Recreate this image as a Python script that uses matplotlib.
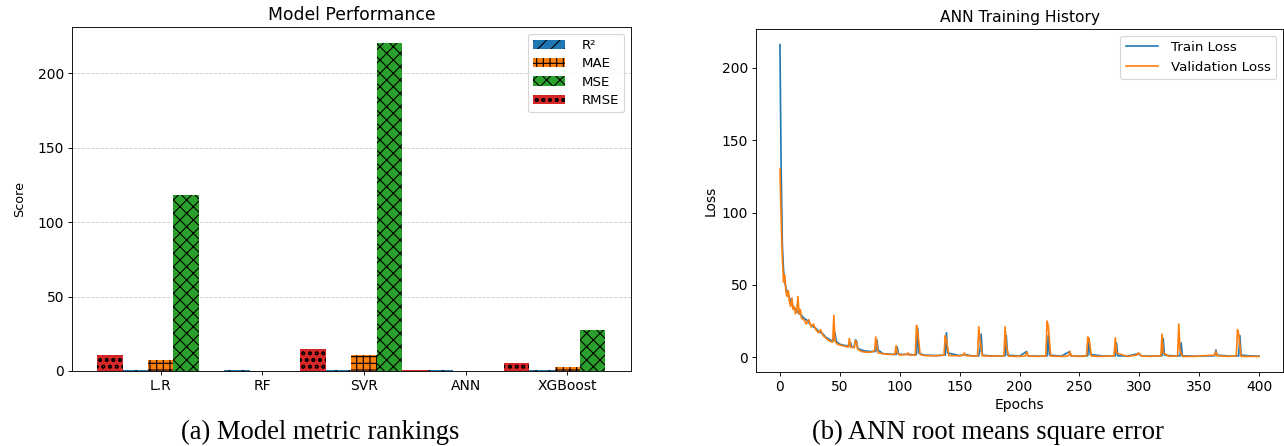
import numpy as np
import matplotlib
matplotlib.use('Agg')
import matplotlib.pyplot as plt

# ---------------- data: model metrics ----------------
models = ['L.R', 'RF', 'SVR', 'ANN', 'XGBoost']
r2 = [0.7, 0.95, 0.6, 0.9, 0.85]
mae = [7.5, 0.03, 10.5, 0.05, 2.7]
mse = [118.0, 0.003, 220.0, 0.03, 27.5]
rmse = [10.9, 0.05, 14.8, 0.6, 5.2]

# ---------------- data: ANN training history ----------------
val_epochs = [0, 1, 2, 3, 4, 5, 6, 7, 8, 9, 10, 11, 12, 13, 14, 15, 16, 17, 18, 20,
              22, 24, 26, 28, 30, 32, 34, 36, 38, 40, 42, 44, 45, 46, 48, 50, 52, 55, 57, 58,
              59, 62, 63, 64, 65, 68, 72, 76, 79, 80, 82, 86, 90, 95, 96, 97, 98, 100, 105, 106,
              107, 108, 113, 114, 115, 117, 120, 130, 137, 138, 139, 141, 150, 153, 154, 155, 160, 165, 166, 167,
              169, 175, 187, 188, 189, 191, 200, 205, 206, 207, 215, 222, 223, 224, 226, 235, 241, 242, 243, 250,
              256, 257, 258, 260, 270, 279, 280, 281, 290, 298, 299, 300, 302, 310, 318, 319, 320, 325, 332, 333,
              334, 336, 345, 363, 364, 365, 375, 381, 382, 383, 385, 395, 400]
val_loss = [130, 95, 68, 52, 57, 45, 42, 46, 38, 35, 41, 33, 35, 30, 32, 42, 30, 33, 27, 26,
            23, 26, 21, 23, 19, 17, 19, 15, 13.5, 12, 11, 10.5, 29, 11, 9, 8.5, 8, 7.5, 7, 13,
            7, 6.5, 11.5, 10, 5.5, 4, 3.5, 3.5, 4.5, 14, 3, 2.5, 2, 2, 2, 8, 3, 1.5, 2, 2,
            3, 1.5, 1.5, 22, 18, 2, 1.2, 1, 1.5, 15, 12, 1.2, 1, 1.5, 3, 1.2, 0.8, 1, 21, 12,
            1, 0.8, 1, 21, 8, 0.8, 0.6, 1, 3.5, 1, 0.6, 1, 25, 22, 0.8, 0.6, 1, 4, 1, 0.6,
            1, 14, 13, 0.8, 0.6, 1, 13.5, 3, 0.6, 1.5, 3, 2.5, 0.8, 0.6, 1, 16, 3, 0.6, 1, 23,
            5, 0.6, 0.6, 1.5, 4, 1, 0.6, 1, 19, 16, 0.6, 0.6, 0.6]

train_epochs = [0, 1, 2, 3, 4, 5, 6, 7, 8, 9, 10, 11, 12, 13, 14, 15, 16, 17, 18, 20,
                22, 24, 26, 28, 30, 32, 34, 36, 38, 40, 42, 44, 45, 46, 47, 50, 55, 58, 59, 60,
                62, 63, 64, 65, 70, 76, 80, 81, 82, 86, 95, 97, 98, 99, 105, 108, 113, 114, 115, 116,
                120, 130, 138, 139, 140, 150, 154, 160, 166, 167, 168, 169, 175, 188, 189, 190, 200, 206, 207, 215,
                223, 224, 225, 235, 242, 243, 250, 257, 258, 259, 270, 280, 281, 282, 290, 299, 300, 302, 310, 319,
                320, 321, 330, 334, 335, 336, 345, 363, 364, 365, 375, 383, 384, 385, 395, 400]
train_loss = [216, 130, 78, 60, 52, 48, 45, 43, 41, 39, 37, 35, 34, 33, 32, 31, 30, 30, 29, 27,
              26, 24, 22, 21, 20, 18, 17, 16, 14, 13, 12, 11, 12, 17, 11, 9, 8, 8, 10, 7,
              7, 12, 11, 6, 4.5, 4, 4, 12, 5, 2.5, 2, 2, 7, 2, 2, 2, 1.5, 2, 20, 3,
              1.5, 1.2, 1.5, 17, 3, 1.2, 2, 1, 1, 5, 16, 1.5, 1, 1, 15, 1.5, 0.8, 4, 1, 0.8,
              1, 15, 1.5, 0.8, 4, 1, 0.8, 1, 13, 2, 0.8, 1, 10, 1, 0.8, 2.5, 2, 0.8, 0.8, 1,
              13, 1.5, 0.8, 1, 10, 1, 0.8, 1, 5, 1.5, 0.8, 1, 15, 1.5, 0.8, 0.8]

W, H, DPI = 1284, 446, 80
fig = plt.figure(figsize=(W / DPI, H / DPI), dpi=DPI)
TICK = 12.5

# ---------------- left: bar chart ----------------
ax1 = fig.add_axes([71.8 / W, 1 - 371 / H, (630.8 - 71.8) / W, (371 - 27) / H])
x = np.arange(len(models))
w = 0.25
ax1.bar(x - w, r2, w, color='#1f77b4', hatch='//', label='R²')
ax1.bar(x, mae, w, color='#ff7f0e', hatch='++', label='MAE')
ax1.bar(x + w, mse, w, color='#2ca02c', hatch='xx', label='MSE')
ax1.bar(x - 2 * w, rmse, w, color='#d62728', hatch='oo', label='RMSE')
ax1.set_xticks(x)
ax1.set_xticklabels(models)
ax1.tick_params(labelsize=TICK)
ax1.set_ylabel('Score', fontsize=11.5, labelpad=10)
ax1.set_title('Model Performance', fontsize=15.5)
ax1.yaxis.grid(True, linestyle='--', alpha=0.6)
ax1.set_axisbelow(True)
ax1.legend(loc='upper right', fontsize=12, labelspacing=0.4, handlelength=2.4,
           handletextpad=1.2)

# ---------------- right: training history ----------------
ax2 = fig.add_axes([756 / W, 1 - 372 / H, (1283 - 756) / W, (372 - 29) / H])
ax2.plot(train_epochs, train_loss, color='#1f77b4', label='Train Loss')
ax2.plot(val_epochs, val_loss, color='#ff7f0e', label='Validation Loss')
ax2.tick_params(labelsize=TICK)
ax2.set_xlabel('Epochs', fontsize=12.5)
ax2.set_ylabel('Loss', fontsize=12.5)
ax2.set_title('ANN Training History', fontsize=14)
ax2.legend(loc='upper right', fontsize=12, handlelength=2.4, handletextpad=1.0)

# ---------------- captions ----------------
fig.text(320 / W, 1 - 432 / H, '(a) Model metric rankings', family='Liberation Serif',
         fontsize=24, ha='center', va='center')
fig.text(988 / W, 1 - 432 / H, '(b) ANN root means square error', family='Liberation Serif',
         fontsize=24, ha='center', va='center')

fig.savefig('out.png', dpi=DPI)
